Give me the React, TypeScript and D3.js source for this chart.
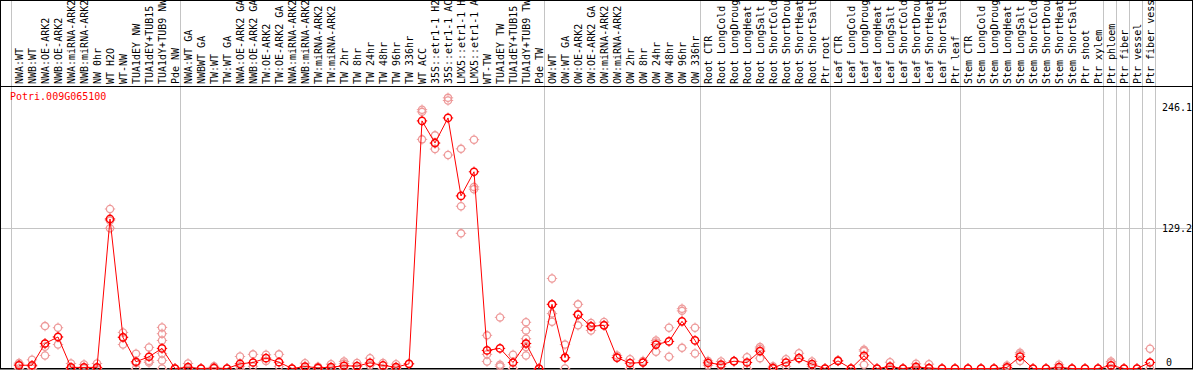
import React from 'react';
import * as d3 from 'd3';

const labels = [
  'NWA:WT', 'NWB:WT', 'NWA:OE-ARK2', 'NWB:OE-ARK2', 'NWA:miRNA-ARK2', 'NWB:miRNA-ARK2', 'NW 0hr', 'WT H2O', 'WT-NW',
  'TUA1dEY NW', 'TUA1dEY+TUB15 NW', 'TUA1dY+TUB9 NW', 'Pde NW',
  'NWA:WT GA', 'NWBWT GA', 'TW:WT', 'TW:WT GA', 'NWA:OE-ARK2 GA', 'NWB:OE-ARK2 GA', 'TW:OE-ARK2', 'TW:OE-ARK2 GA',
  'NWA:miRNA-ARK2 GA', 'NWB:miRNA-ARK2 GA', 'TW:miRNA-ARK2', 'TW:miRNA-ARK2 GA', 'TW 2hr', 'TW 8hr', 'TW 24hr', 'TW 48hr',
  'TW 96hr', 'TW 336hr', 'WT ACC', '35S::etr1-1 H2O', '35S::etr1-1 ACC', 'LMX5::etr1-1 H2O', 'LMX5::etr1-1 ACC', 'WT-TW',
  'TUA1dEY TW', 'TUA1dEY+TUB15 TW', 'TUA1dY+TUB9 TW', 'Pde TW',
  'OW:WT', 'OW:WT GA', 'OW:OE-ARK2', 'OW:OE-ARK2 GA', 'OW:miRNA-ARK2', 'OW:miRNA-ARK2 GA', 'OW 2hr', 'OW 8hr', 'OW 24hr',
  'OW 48hr', 'OW 96hr', 'OW 336hr',
  'Root CTR', 'Root LongCold', 'Root LongDrought', 'Root LongHeat', 'Root LongSalt', 'Root ShortCold', 'Root ShortDrought',
  'Root ShortHeat', 'Root ShortSalt', 'Ptr root',
  'Leaf CTR', 'Leaf LongCold', 'Leaf LongDrought', 'Leaf LongHeat', 'Leaf LongSalt', 'Leaf ShortCold', 'Leaf ShortDrought',
  'Leaf ShortHeat', 'Leaf ShortSalt', 'Ptr leaf',
  'Stem CTR', 'Stem LongCold', 'Stem LongDrought', 'Stem LongHeat', 'Stem LongSalt', 'Stem ShortCold', 'Stem ShortDrought',
  'Stem ShortHeat', 'Stem ShortSalt', 'Ptr shoot', 'Ptr xylem',
  'Ptr phloem', 'Ptr fiber', 'Ptr vessel', 'Ptr fiber vessel',
];

// how many samples sit between two grey separators
const groupSizes = [13, 28, 12, 10, 10, 11, 1, 1, 1, 1];

const means = [
  3, 3, 23, 29, 1, 1, 1, 137.5, 28.6, 6.2, 10.8, 18.5, 0,
  1.2, 0, 0.5, 0, 4.3, 5.5, 9.5, 5.8, 0, 1.8, 0.6, 1.2, 2.5, 2.2, 5.2, 2.8, 1.2, 4.3,
  227.7, 207.4, 230.4, 158.7, 180.9, 16.6, 18.5, 5.5, 23, 0,
  59, 10, 49.5, 38.8, 39.7, 10, 4.9, 5.5, 22, 24.9, 43.4, 25.8,
  5.2, 3.7, 6.7, 5.5, 16, 0.3, 5.5, 9.5, 4, 0,
  7, 0, 11.7, 0, 1.8, 0, 1.5, 0.3, 0, 0,
  0, 0, 0, 1, 11, 0, 0, 1.2, 0, 0, 0,
  2.8, 0, 0, 5.5,
];

const replicates = [
  [5, 4, 0], [8, 0, 2], [39, 12, 20, 23], [37.5, 22, 29], [4.6, 0], [3.7, 0], [4.6, 0], [146.7, 136, 129],
  [33.2, 22, 29], [13.5, 0, 5], [19.4, 5.5, 7], [37.8, 32, 25.8, 13.8, 7.4, 0], [0, 0],
  [4.6, 0], [0], [2, 0], [0], [11, 0, 2], [13, 2], [12.6, 7], [13, 2], [0], [4.9, 0], [1.5, 0], [4, 0],
  [6.5, 4.5, 0], [5, 0], [9.5, 3], [5, 0], [4, 0], [4.3],
  [236, 238, 210.7], [214.4, 201.8, 207], [248.9, 246.5, 196.3], [202, 149.2, 124.3], [210.4, 164.9, 167],
  [30.5, 6.5, 13], [47, 3.4, 2], [12.6, 0], [42.5, 35, 27.4, 19.7, 12, 23], [0],
  [82.8, 50.5, 43, 59], [22, 0, 10], [59, 39.7, 50], [41.8, 35, 39], [42.7, 40], [12, 10], [8.6, 0], [5.5, 7],
  [25.8, 15.4, 24], [37.5, 10.8], [55, 19, 53], [37.5, 13.8],
  [3, 7], [6.5, 2], [6.7, 7], [10.4, 0], [19.7, 9.5, 18], [2, 0], [8.6, 2], [14, 9.5], [6.5, 2], [0],
  [7.5, 7], [0], [17.3, 3.4, 16], [0], [5.8, 0], [0], [4.3, 0], [4, 0], [0], [0],
  [0], [0], [0], [2.8, 0], [14.5, 7, 13], [0], [0], [3.4, 0], [0], [0], [0],
  [6.5, 5, 0], [0], [0], [18.2, 0],
];

const yTicks = [0, 129.2, 246.1];
const title = 'Potri.009G065100';

const width = 1194;
const height = 370;
const headerBottom = 86;
const plotBottom = 368.5;
const font = '"DejaVu Sans Mono", "Liberation Mono", monospace';

const x = d3.scaleBand<number>()
  .domain(d3.range(labels.length))
  .range([11, 11 + 13 * labels.length]);

const px = (i: number) => (x(i) as number) + 8;

const y = d3.scaleLinear()
  .domain([0, 129.2])
  .range([plotBottom, 228]);

const boundaries = [0, ...d3.cumsum(groupSizes)];

const line = d3.line<number>()
  .x((_, i) => px(i))
  .y(d => y(d));

const Marker = ({ cx, cy, color, sw }: { cx: number; cy: number; color: string; sw: number }) => (
  <g stroke={color} strokeWidth={sw} fill="none">
    <circle cx={cx} cy={cy} r={3.6} />
    <path d={`M${cx},${cy - 3.6}v-1.6M${cx},${cy + 3.6}v1.6M${cx - 3.6},${cy}h-1.6M${cx + 3.6},${cy}h1.6`} strokeWidth={1} />
  </g>
);

export default function App() {
  return (
    <svg width={width} height={height} style={{ position: 'absolute', left: 0, top: 0, background: '#fff' }}
      fontFamily={font} fontSize={10}>
      {boundaries.map(k => {
        const gx = (k < labels.length ? (x(k) as number) : (x(labels.length - 1) as number) + 13) + 0.5;
        return <line key={k} x1={gx} x2={gx} y1={0} y2={plotBottom} stroke="#c4c4c4" strokeWidth={1} />;
      })}
      <line x1={0} x2={1192} y1={Math.round(y(129.2)) + 0.5} y2={Math.round(y(129.2)) + 0.5} stroke="#c4c4c4" />

      {labels.map((l, i) => (
        <text key={l + i} x={px(i) + 4} y={84} transform={`rotate(-90,${px(i) + 4},84)`} fill="#000">{l}</text>
      ))}

      <rect x={0.5} y={0.5} width={1192} height={plotBottom - 0.5} fill="none" stroke="#000" />
      <line x1={0} x2={1193} y1={headerBottom + 0.5} y2={headerBottom + 0.5} stroke="#000" />
      <line x1={0} x2={1193} y1={plotBottom + 0.5} y2={plotBottom + 0.5} stroke="#000" />

      <text x={10} y={100} fill="#ff0000">{title}</text>

      {yTicks.map(t => (
        <text key={t} x={t === 0 ? 1166 : 1162} y={Math.min(Math.max(y(t), 107), 362)} dy="0.35em" fill="#000">{t}</text>
      ))}

      {replicates.map((reps, i) => reps.map((v, j) => (
        <Marker key={i + '-' + j} cx={px(i)} cy={y(v)} color="#ee9a9a" sw={1.3} />
      )))}

      <path d={line(means) || ''} fill="none" stroke="#ff0000" strokeWidth={1} />

      {means.map((v, i) => (
        <Marker key={'m' + i} cx={px(i)} cy={y(v)} color="#ff0000" sw={1.5} />
      ))}
    </svg>
  );
}
